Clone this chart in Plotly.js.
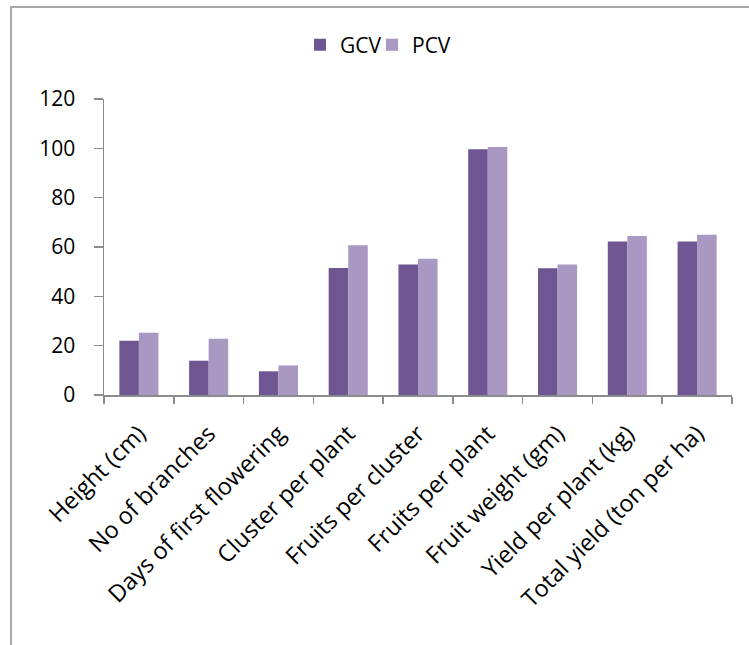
<!DOCTYPE html>
<html>
<head>
<meta charset="utf-8">
<script src="https://cdn.plot.ly/plotly-3.0.1.min.js"></script>
<style>
  html, body { margin: 0; padding: 0; background: #fff; overflow: hidden; }
  #wrap { position: relative; width: 749px; height: 645px; overflow: hidden; }
  #chart { width: 749px; height: 645px; }
  /* chart-area frame: only its left and top edges fall inside the page */
  .edge { position: absolute; background: #a6a6a6; pointer-events: none; }
  #edgeLeft { left: 10px; top: 6px; width: 2px; height: 639px; }
  #edgeTop { left: 10px; top: 6px; width: 739px; height: 2px; }
</style>
</head>
<body>
<div id="wrap">
  <div id="chart"></div>
  <div class="edge" id="edgeLeft"></div>
  <div class="edge" id="edgeTop"></div>
</div>
<script>
// Genotypic (GCV) and phenotypic (PCV) coefficients of variation per trait
const traits = [
  "Height (cm)",
  "No of branches",
  "Days of first flowering",
  "Cluster per plant",
  "Fruits per cluster",
  "Fruits per plant",
  "Fruit weight (gm)",
  "Yield per plant (kg)",
  "Total yield (ton per ha)"
];
const gcvValues = [22.0, 13.9, 9.6, 51.5, 52.9, 99.6, 51.4, 62.2, 62.2];
const pcvValues = [25.2, 22.8, 12.0, 60.7, 55.2, 100.5, 52.9, 64.5, 65.0];
const seriesNames = ["GCV", "PCV"];
const yTicks = [0, 20, 40, 60, 80, 100, 120];

const W = 749, H = 645;
const margin = { l: 104, r: 17, t: 99, b: 250 };
const plotW = W - margin.l - margin.r;
const plotH = H - margin.t - margin.b;

// convert a pixel position on the page to paper coordinates
const px = x => (x - margin.l) / plotW;
const py = y => (H - margin.b - y) / plotH;

const axisGrey = "#8c8c8c";
const fontFam = "'Open Sans', Lato, sans-serif";

const traces = [
  {
    type: "bar",
    name: seriesNames[0],
    x: traits,
    y: gcvValues,
    legend: "legend",
    marker: { color: "#6f5592", line: { width: 0 } }
  },
  {
    type: "bar",
    name: seriesNames[1],
    x: traits,
    y: pcvValues,
    legend: "legend2",
    marker: { color: "#a898c2", line: { width: 0 } }
  }
];

// one legend box per series so the two entries sit close together
const legendBase = {
  orientation: "h",
  yanchor: "middle",
  xanchor: "left",
  y: py(45),
  font: { size: 21, family: fontFam, color: "#000" },
  bgcolor: "rgba(0,0,0,0)",
  itemwidth: 30
};

const layout = {
  width: W,
  height: H,
  margin: margin,
  paper_bgcolor: "#ffffff",
  plot_bgcolor: "#ffffff",
  font: { family: fontFam, color: "#000000" },
  barmode: "group",
  bargap: 0.44,
  bargroupgap: 0,
  showlegend: true,
  legend: Object.assign({}, legendBase, { x: px(300) }),
  legend2: Object.assign({}, legendBase, { x: px(372) }),
  xaxis: {
    type: "category",
    tickson: "boundaries",
    ticks: "outside",
    ticklen: 7,
    tickwidth: 1.5,
    tickcolor: axisGrey,
    showline: true,
    linecolor: axisGrey,
    linewidth: 1.5,
    showgrid: false,
    zeroline: false,
    tickangle: -45,
    ticklabelstandoff: 14,
    tickfont: { size: 23.5, family: fontFam, color: "#000" }
  },
  yaxis: {
    range: [0, 120],
    tickvals: yTicks,
    ticktext: yTicks.map(String),
    ticks: "outside",
    ticklen: 9,
    tickwidth: 1.5,
    tickcolor: axisGrey,
    showline: true,
    linecolor: axisGrey,
    linewidth: 1.5,
    showgrid: false,
    zeroline: false,
    ticklabelstandoff: 14,
    tickfont: { size: 21, family: fontFam, color: "#000" }
  }
};

Plotly.newPlot("chart", traces, layout, { displayModeBar: false, staticPlot: true });
</script>
</body>
</html>
